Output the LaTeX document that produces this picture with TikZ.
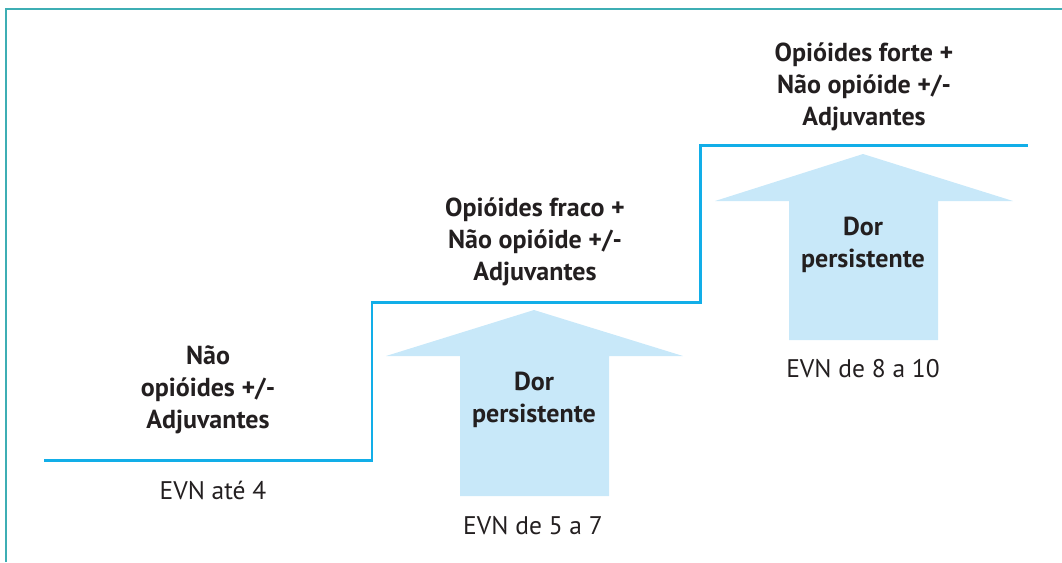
\documentclass[tikz,border=0pt]{standalone}
\usepackage{fontspec}
\setmainfont{PT Sans}
\usetikzlibrary{positioning}

\definecolor{frameteal}{HTML}{3EAEB4}
\definecolor{stepblue}{HTML}{12AEE8}
\definecolor{arrowfill}{HTML}{C8E8F9}
\definecolor{txtdark}{HTML}{231F20}

\begin{document}
\begin{tikzpicture}[
    x=0.02cm, y=-0.02cm,
    drug/.style={font=\fontsize{14.8}{18.2}\selectfont\bfseries, text=txtdark,
        align=center, inner sep=0pt},
    evn/.style={font=\fontsize{14.5}{18}\selectfont, text=txtdark,
        inner sep=0pt},
    pain/.style={font=\fontsize{14.8}{18.2}\selectfont\bfseries, text=txtdark,
        align=center, inner sep=0pt},
    stair/.style={draw=stepblue, line width=1.7pt},
    uparrow/.style={fill=arrowfill},
]
\useasboundingbox (0,0) rectangle (1062,562);

% === Frame ===
\draw[frameteal, line width=1.4pt] (6,562) -- (6,9) -- (1062,9);

% === Stairs ===
\coordinate (s0) at (44,460);
\coordinate (s1) at (372,460);
\coordinate (s2) at (372,302);
\coordinate (s3) at (700,302);
\coordinate (s4) at (700,145);
\coordinate (s5) at (1028,145);
\draw[stair] (s0) -- (s1) -- (s2) -- (s3) -- (s4) -- (s5);

% === Arrows ===
\def\arrA{534}   % step 2 centre
\def\arrB{863}   % step 3 centre
\fill[uparrow] (\arrA,310) -- (683,356) -- (609,356) -- (609,496)
    -- (460,496) -- (460,356) -- (386,356) -- cycle;
\fill[uparrow] (\arrB,154) -- (1013,201) -- (938,201) -- (938,340)
    -- (789,340) -- (789,201) -- (715,201) -- cycle;

% === Step 1 ===
\node[drug] (drugA) at (208,390) {Não\\opióides +/-\\Adjuvantes};
\node[evn] (evnA) at (213,490) {EVN até 4};

% === Step 2 ===
\node[drug] (drugB) at (535,242) {Opióides fraco +\\Não opióide +/-\\Adjuvantes};
\node[pain] (painB) at (\arrA,400) {Dor\\persistente};
\node[evn] (evnB) at (533,526) {EVN de 5 a 7};

% === Step 3 ===
\node[drug] (drugC) at (864,87) {Opióides forte +\\Não opióide +/-\\Adjuvantes};
\node[pain] (painC) at (\arrB,245) {Dor\\persistente};
\node[evn] (evnC) at (\arrB,369) {EVN de 8 a 10};

\end{tikzpicture}
\end{document}
